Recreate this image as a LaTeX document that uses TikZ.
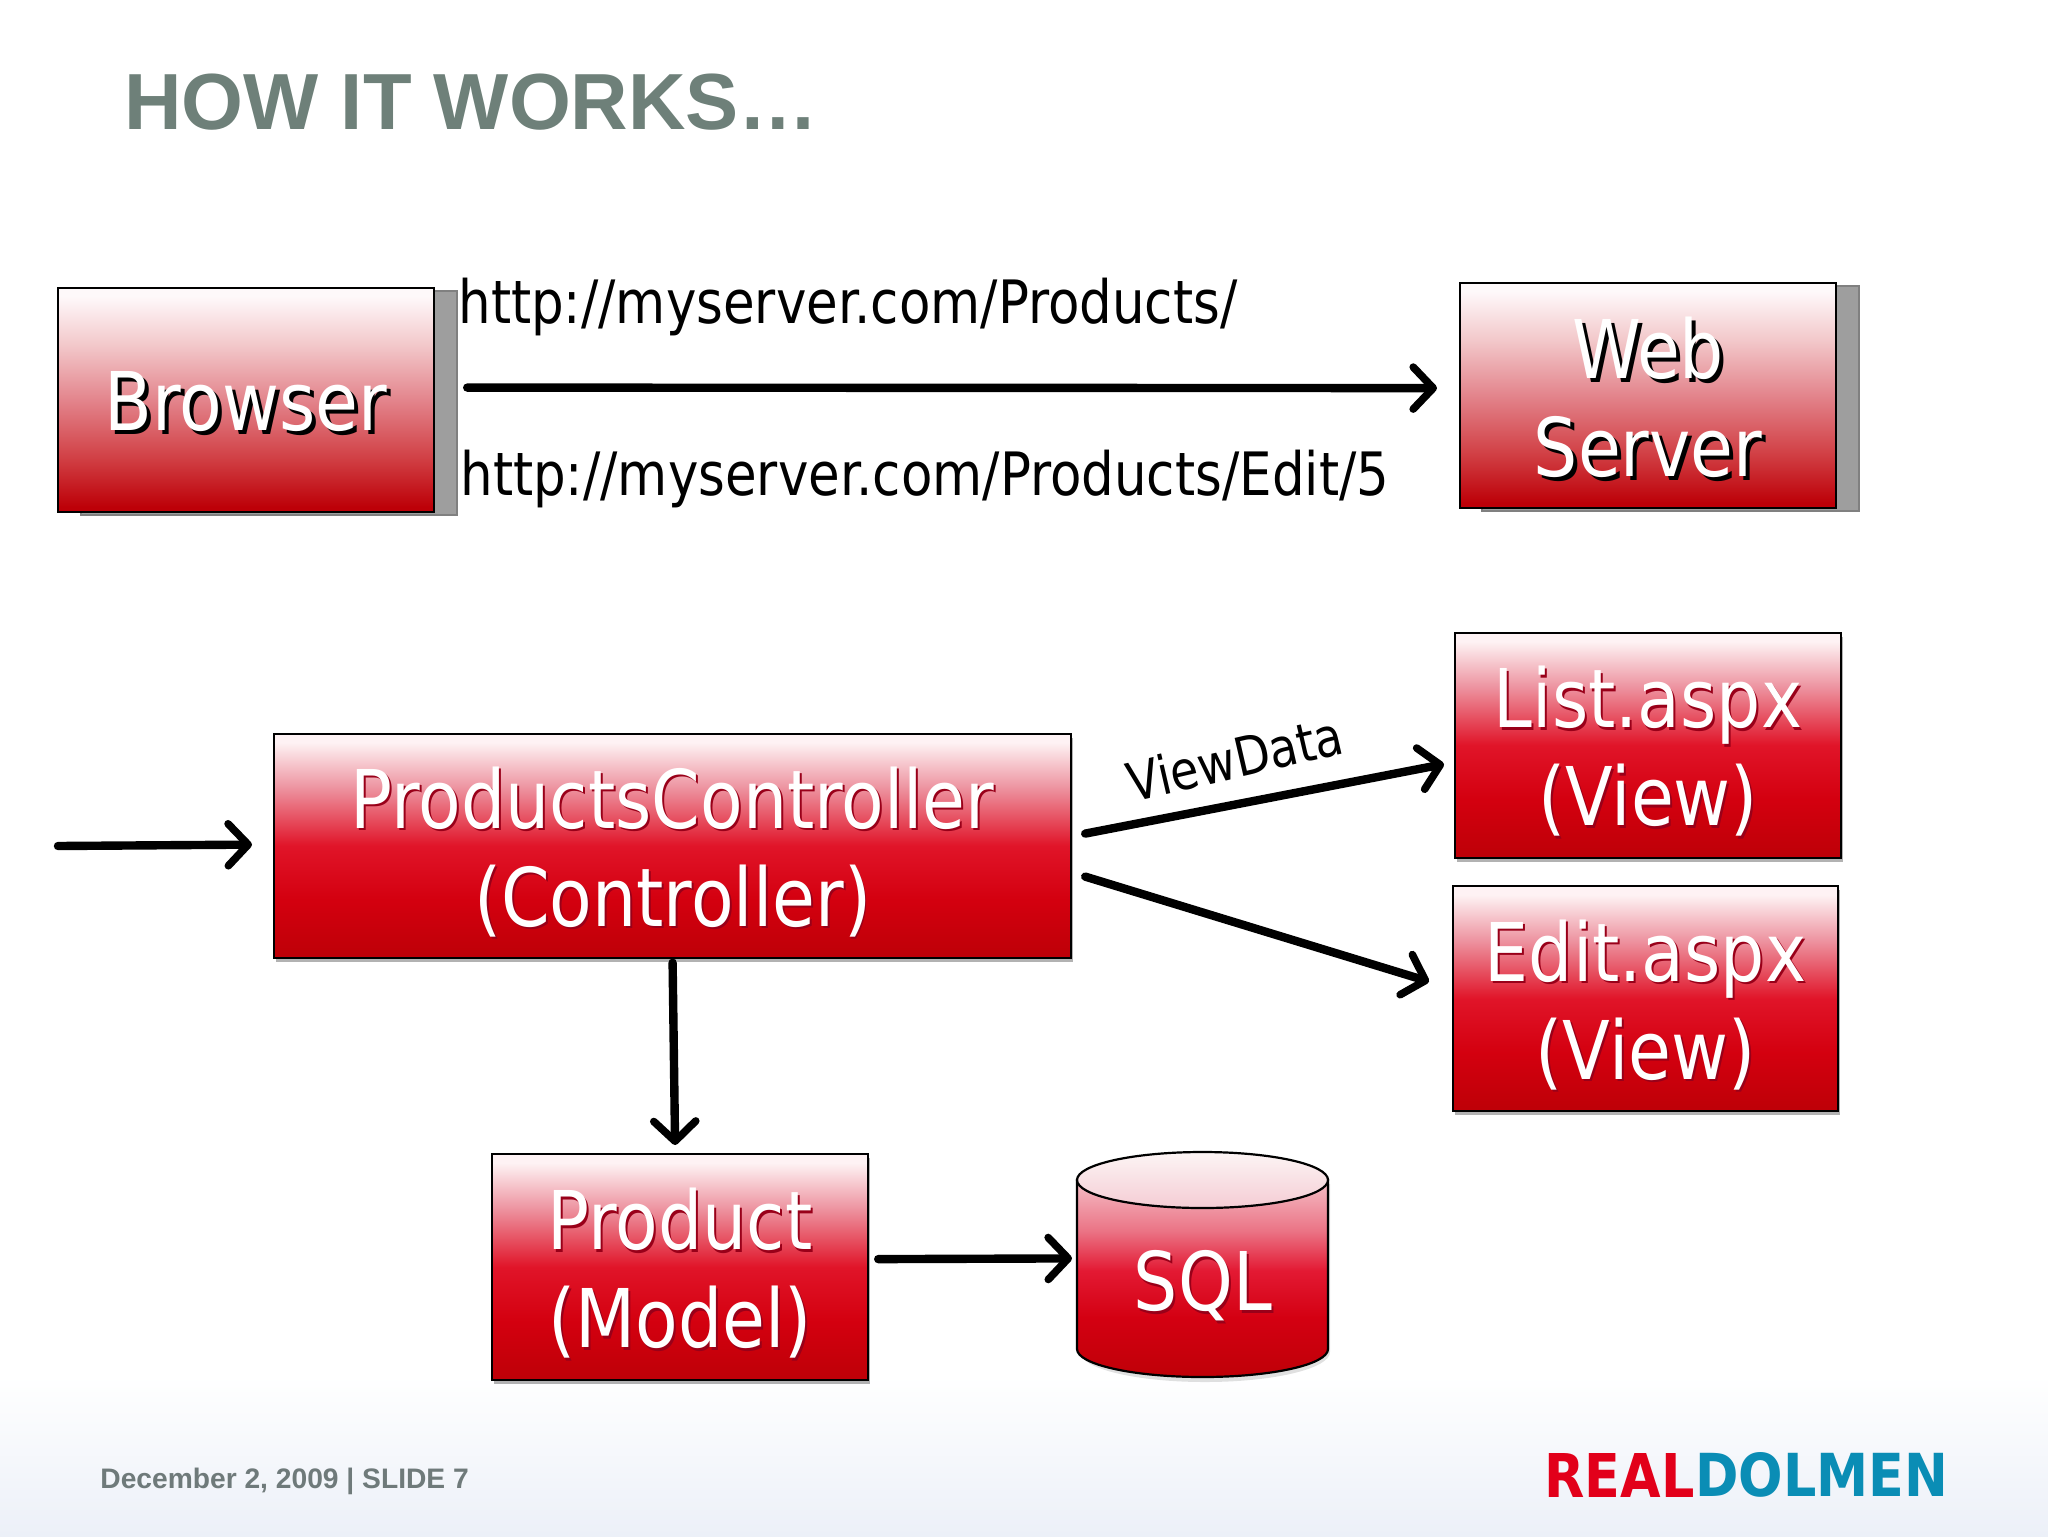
\documentclass[tikz,border=0pt]{standalone}
\usepackage{fontspec}
\usepackage{graphicx}
\usetikzlibrary{arrows.meta,shadows,calc}
\setmainfont{Liberation Sans}
\newfontfamily\tfont[FakeStretch=0.86]{DejaVu Sans}
\newfontfamily\logofont{DejaVu Sans}
\definecolor{titlec}{HTML}{6E8079}
\definecolor{footc}{HTML}{6F7A7A}
\definecolor{logored}{HTML}{E2001A}
\definecolor{logoblue}{HTML}{0A8DB5}
\definecolor{bandc}{HTML}{ECF0F8}
\definecolor{bA}{rgb}{0.74,0.0,0.03}
\definecolor{bB}{rgb}{0.82,0.25,0.27}
\definecolor{bC}{rgb}{0.89,0.52,0.55}
\definecolor{bD}{rgb}{0.95,0.78,0.79}
\definecolor{bE}{rgb}{0.998,0.975,0.98}
\definecolor{sA}{rgb}{0.75,0.0,0.03}
\definecolor{sB}{rgb}{0.83,0.0,0.06}
\definecolor{sC}{rgb}{0.88,0.08,0.16}
\definecolor{sD}{rgb}{0.93,0.58,0.63}
\definecolor{sE}{rgb}{0.995,0.95,0.955}
\definecolor{cA}{rgb}{0.96,0.8,0.83}
\definecolor{cB}{rgb}{0.99,0.96,0.96}
\definecolor{dA}{rgb}{0.83,0.0,0.07}
\definecolor{dB}{rgb}{0.89,0.1,0.2}
\definecolor{dC}{rgb}{0.92,0.45,0.52}
\definecolor{dD}{rgb}{0.96,0.75,0.78}
\definecolor{softshadow}{rgb}{0.6,0.0,0.1}
\pgfdeclareverticalshading{browsershade}{100bp}{color(0bp)=(bA); color(26bp)=(bA); color(37bp)=(bB); color(50bp)=(bC); color(62bp)=(bD); color(73bp)=(bE); color(100bp)=(bE)}
\pgfdeclareverticalshading{boxshade}{100bp}{color(0bp)=(sA); color(26bp)=(sA); color(38bp)=(sB); color(50bp)=(sC); color(63bp)=(sD); color(73bp)=(sE); color(100bp)=(sE)}
\pgfdeclareverticalshading{capshade}{100bp}{color(0bp)=(cA); color(25bp)=(cA); color(75bp)=(cB); color(100bp)=(cB)}
\pgfdeclareverticalshading{cylshade}{100bp}{color(0bp)=(sA); color(25bp)=(sA); color(40bp)=(dA); color(52bp)=(dB); color(62bp)=(dC); color(75bp)=(dD); color(100bp)=(dD)}
\newcommand{\hardtxt}[1]{\raisebox{-2pt}[\height][\depth]{\rlap{\kern2pt\raisebox{-2pt}{\textcolor{black}{#1}}}#1}}
\newcommand{\softtxt}[1]{\raisebox{-3.8pt}[\height][\depth]{\rlap{\kern1pt\raisebox{-1.2pt}{\textcolor{softshadow}{#1}}}#1}}
\tikzset{
  x=0.5pt,y=-0.5pt,
  boxbase/.style={draw=black,line width=1.1pt,inner sep=0pt,anchor=north west,align=center,text=white,font=\tfont\fontsize{40.5}{49}\selectfont},
  hardbox/.style={boxbase,shading=browsershade},
  softbox/.style={boxbase,shading=boxshade,drop shadow={shadow xshift=1pt,shadow yshift=-2pt,opacity=.3,fill=black}},
  plate/.style={fill=black!38,draw=black!50,line width=.6pt},
  arr/.style={line width=4.2pt,line cap=round,-{Straight Barb[length=10pt,width=21pt,line width=3.8pt,round]}},
  urltext/.style={anchor=base west,inner sep=0pt,font=\tfont\fontsize{29.9}{32}\selectfont,text=black},
}
\begin{document}
\begin{tikzpicture}
\fill[white] (0,0) rectangle (2048,1536);
\useasboundingbox (0,0) rectangle (2048,1536);
\shade[top color=white,bottom color=bandc] (0,1375) rectangle (2048,1536);
\node[anchor=base west,inner sep=0pt,font=\bfseries\fontsize{39.8}{44}\selectfont,text=titlec] (title) at (124,129) {HOW IT WORKS\ldots};
% browser + web server
\fill[plate] (81,291) rectangle (457,515);
\fill[plate] (1482,286) rectangle (1859,511);
\node[hardbox,minimum width=188pt,minimum height=112pt] (browser) at (57,286.5) {\hardtxt{Browser}};
\node[hardbox,minimum width=188pt,minimum height=112.5pt] (web) at (1459,281.5) {\hardtxt{Web}\\\hardtxt{Server}};
\node[urltext] (url1) at (458,323) {http://myserver.com/Products/};
\node[urltext] (url2) at (460,495) {http://myserver.com/Products/Edit/5};
% middle
\node[softbox,minimum width=398.5pt,minimum height=112pt] (ctrl) at (273,732.5) {\softtxt{ProductsController}\\\softtxt{(Controller)}};
\node[softbox,minimum width=193pt,minimum height=112.5pt] (list) at (1454,631.5) {\softtxt{List.aspx}\\\softtxt{(View)}};
\node[softbox,minimum width=192.5pt,minimum height=112.5pt] (edit) at (1452,885) {\softtxt{Edit.aspx}\\\softtxt{(View)}};
\node[softbox,minimum width=188pt,minimum height=113pt] (product) at (491,1153) {\softtxt{Product}\\\softtxt{(Model)}};
% cylinder
\path[fill=black,opacity=.12] (1080,1184) -- (1080,1352) arc[start angle=180,end angle=360,x radius=125,y radius=-30] -- (1330,1184) -- cycle;
\draw[line width=1.1pt,shading=cylshade] (1077,1180) -- (1077,1349) arc[start angle=180,end angle=360,x radius=125.5,y radius=-28] -- (1328,1180) -- cycle;
\draw[line width=1.1pt,shading=capshade] (1202.5,1180) ellipse[x radius=125.5,y radius=28];
\node[minimum width=125.5pt,minimum height=112.5pt,inner sep=0pt,anchor=north west,text=white,font=\tfont\fontsize{40.5}{49}\selectfont] (sql) at (1077,1152) {\raisebox{-23pt}[0pt][0pt]{\rlap{\kern1pt\raisebox{-1.2pt}{\textcolor{softshadow}{SQL}}}SQL}};
% connectors
\coordinate (inlet) at (58,846);
\draw[arr] ([shift={(32,-12)}]browser.east) -- ([shift={(-22,-7)}]web.west);
\draw[arr] (inlet) -- ([shift={(-21,-1)}]ctrl.west);
\draw[arr] ([shift={(13,-12)}]ctrl.east) -- ([shift={(-10,19)}]list.west);
\draw[arr] ([shift={(13,31)}]ctrl.east) -- ([shift={(-23,-17)}]edit.west);
\draw[arr] ([shift={(0,4)}]ctrl.south) -- ([shift={(-5,-8)}]product.north);
\draw[arr] ([shift={(9,-8)}]product.east) -- ([shift={(-5,-6.5)}]sql.west);
\node[rotate=13,inner sep=0pt,font=\tfont\fontsize{26.8}{28}\selectfont] (vd) at (1235,758) {ViewData};
% footer
\node[anchor=base west,inner sep=0pt,font=\bfseries\fontsize{14.1}{18}\selectfont,text=footc] (foot) at (100,1488) {December 2, 2009 | SLIDE 7};
\node[anchor=south west,inner sep=0pt,text=logored,font=\logofont\bfseries] (lr) at (1544,1498) {\resizebox{75pt}{22pt}{REAL}};
\node[anchor=south west,inner sep=0pt,text=logoblue,font=\logofont\bfseries] (lb) at (1695,1498) {\resizebox{126.5pt}{22pt}{DOLMEN}};
\end{tikzpicture}
\end{document}
